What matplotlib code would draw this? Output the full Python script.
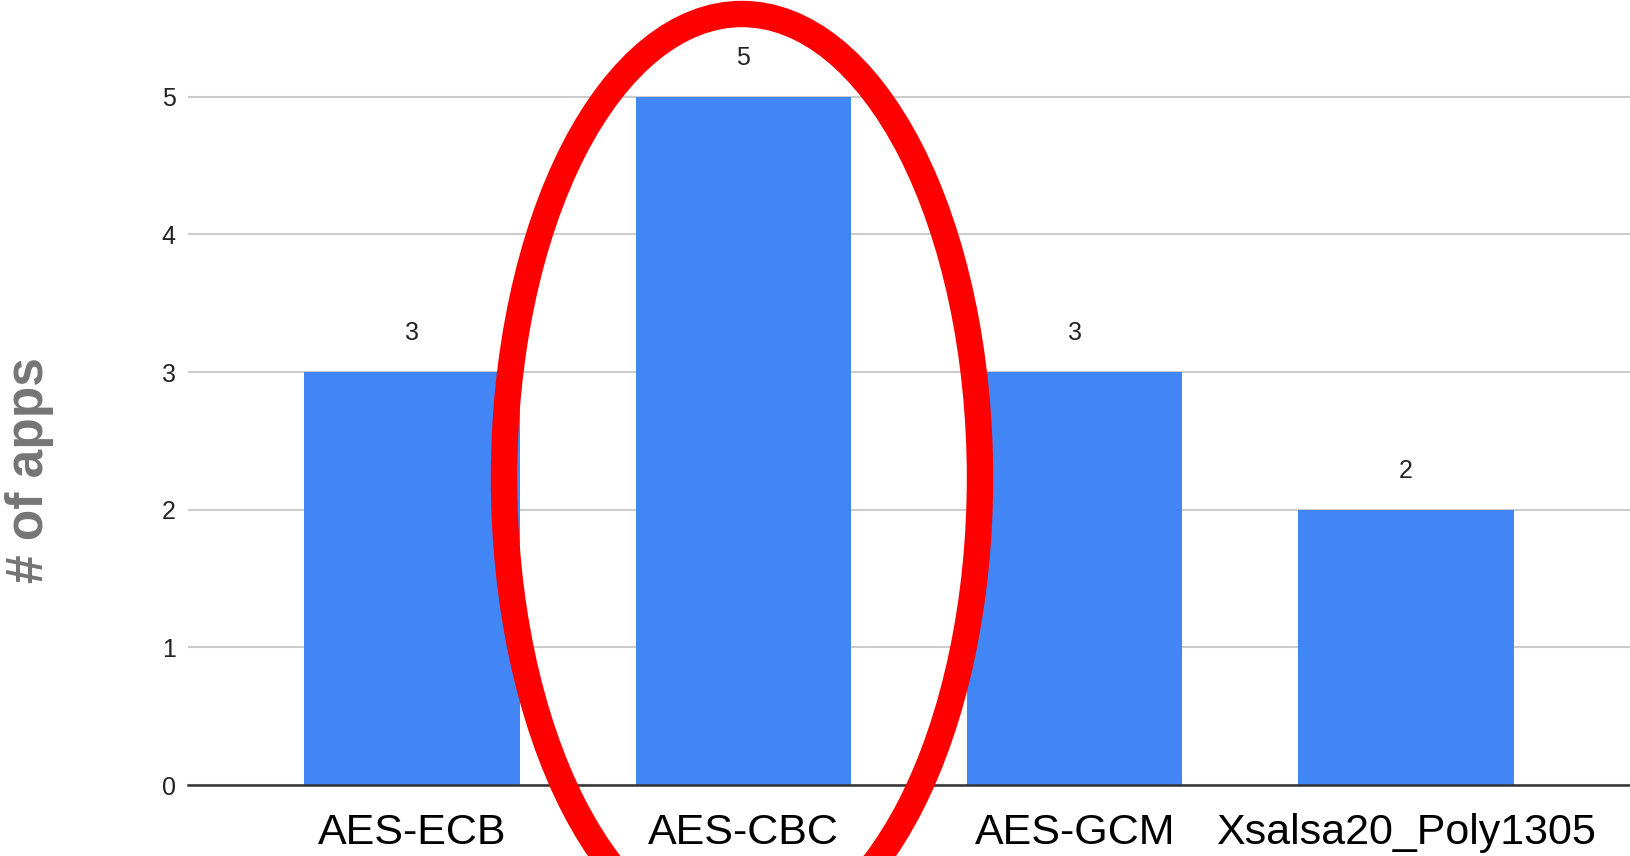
import matplotlib
matplotlib.use("Agg")
import matplotlib.pyplot as plt
from matplotlib.patches import Ellipse
import numpy as np

plt.rcParams['font.family'] = ['Liberation Sans', 'DejaVu Sans']

# cipher modes and how many apps use each
modes = ['AES-ECB', 'AES-CBC', 'AES-GCM', 'Xsalsa20_Poly1305']
app_counts = [3, 5, 3, 2]
y_ticks = [0, 1, 2, 3, 4, 5]

bar_color = '#4285F4'

fig = plt.figure(figsize=(16.31, 8.56), dpi=100)
ax = fig.add_axes([0.1153, 0.0829, 0.8847, 0.9171])

x = np.arange(len(modes))
bars = ax.bar(x, app_counts, width=0.65, color=bar_color, zorder=2)

# value on top of every bar
for xi, v in zip(x, app_counts):
    ax.annotate(str(v), xy=(xi, v), xytext=(0, 28), textcoords='offset points',
                ha='center', va='center', fontsize=18, color='#222222')

ax.set_xlim(-0.676, 3.679)
ax.set_ylim(0, 5.703)
ax.set_xticks(x)
ax.set_xticklabels(modes, fontsize=31, color='black')
ax.set_yticks(y_ticks)
ax.set_yticklabels([str(t) for t in y_ticks], fontsize=18, color='#222222')
ax.tick_params(axis='x', length=0, pad=20)
ax.tick_params(axis='y', length=0, pad=9)

ax.yaxis.grid(True, color='#cccccc', linewidth=1.5, zorder=0)
ax.set_axisbelow(True)
for s in ax.spines.values():
    s.set_visible(False)
ax.axhline(0, color='#333333', linewidth=1.8, zorder=3, clip_on=False)

fig.text(30 / 1631, 1 - 470 / 856, '# of apps', rotation=90, ha='center',
         va='center', fontsize=37, fontweight='bold', color='#757575')

# red ring around the AES-CBC bar
ring = Ellipse((742 / 1631, 1 - 478 / 856), 2 * 238 / 1631, 2 * 464 / 856,
               transform=fig.transFigure, fill=False, edgecolor='#ff0000',
               linewidth=19, clip_on=False, zorder=10)
fig.patches.append(ring)

fig.savefig('out.png', dpi=100, facecolor='white')
